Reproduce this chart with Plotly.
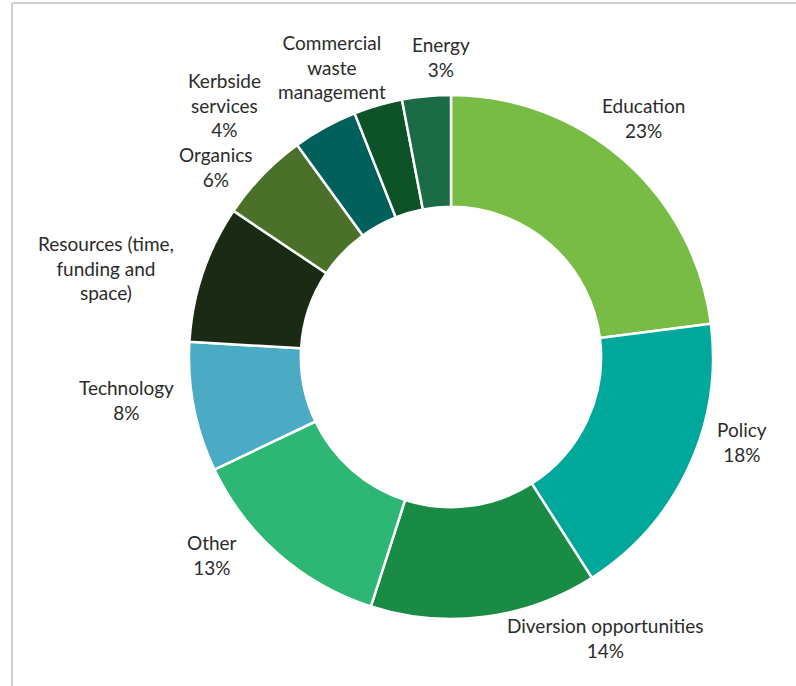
import plotly.graph_objects as go

categories = ["Education", "Policy", "Diversion opportunities", "Other", "Technology",
              "Resources (time, funding and space)", "Organics", "Kerbside services",
              "Commercial waste management", "Energy"]
values = [23, 18, 14, 13, 8, 8.5, 5.6, 4, 3, 3]
label_text = ["Education<br>23%", "Policy<br>18%", "Diversion opportunities<br>14%",
              "Other<br>13%", "Technology<br>8%", "Resources (time,<br>funding and<br>space)",
              "Organics<br>6%", "Kerbside<br>services<br>4%", "Commercial<br>waste<br>management",
              "Energy<br>3%"]
colors = ["#78BB45", "#00A89C", "#198B45", "#2DB674", "#4BABC5",
          "#1B2A14", "#4B7029", "#00605C", "#0E5227", "#1B6B46"]

# layout: label block centres in pixels (x, y from top)
label_pos = [(643, 118), (742, 442), (605, 638), (212, 555), (126, 400),
             (106, 268), (216, 167), (224, 105), (332, 67), (441, 57)]

W, H = 796, 686
cx, cy, r = 451, 357, 262

fig = go.Figure(go.Pie(
    labels=categories, values=values,
    textinfo="none", hoverinfo="label+percent",
    sort=False, direction="clockwise", rotation=0, hole=0.573,
    marker=dict(colors=colors, line=dict(color="white", width=2.5)),
    showlegend=False,
    domain=dict(x=[(cx - r) / W, (cx + r) / W], y=[1 - (cy + r) / H, 1 - (cy - r) / H]),
))

annotations = []
for txt, (px, py) in zip(label_text, label_pos):
    annotations.append(dict(
        text=txt, x=px / W, y=1 - py / H, xref="paper", yref="paper",
        xanchor="center", yanchor="middle", align="center", showarrow=False,
        font=dict(family="Lato", size=19, color="#2B2B2B"),
    ))

fig.update_layout(
    width=W, height=H, margin=dict(l=0, r=0, t=0, b=0, autoexpand=False),
    paper_bgcolor="white", plot_bgcolor="white",
    annotations=annotations,
    shapes=[
        dict(type="line", xref="paper", yref="paper", x0=12 / W, x1=12 / W, y0=0, y1=1 - 3 / H,
             line=dict(color="#D0D0D0", width=2)),
        dict(type="line", xref="paper", yref="paper", x0=12 / W, x1=1, y0=1 - 3 / H, y1=1 - 3 / H,
             line=dict(color="#D0D0D0", width=2)),
    ],
)
fig.write_html("out.html")
